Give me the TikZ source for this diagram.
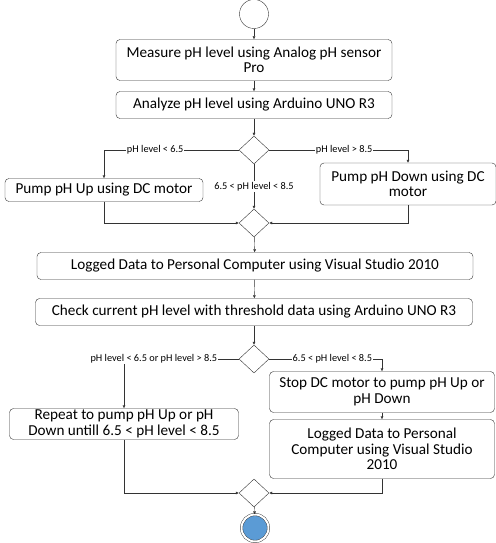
\documentclass[tikz,border=0pt]{standalone}
\usepackage{fontspec}
\setmainfont{Carlito}
\usetikzlibrary{arrows.meta, shapes.geometric}
\definecolor{endblue}{HTML}{5B9BD5}

\begin{document}
\begin{tikzpicture}[x=1pt,y=-1pt,
  box/.style={draw=black!80,rounded corners=4pt,align=center,inner sep=1pt,
    font=\fontsize{15.2}{15.5}\selectfont},
  dec/.style={draw=black!80,diamond,minimum width=30pt,minimum height=28pt,inner sep=0pt},
  arj/.style={draw=black!80,-{Latex[length=3pt,width=3pt]}},
  lbl/.style={fill=white,inner sep=1pt,font=\fontsize{10.3}{11}\selectfont}]
  \useasboundingbox (0,0) rectangle (495,543);
  % first analysis
  \node (start)[draw=black!80,circle,minimum size=29pt,inner sep=0pt] at (254,14) {};
  \node (measure)[box,minimum width=276pt,minimum height=41pt] at (254,60)
    {Measure pH level using Analog pH sensor\\Pro};
  \node (analyze)[box,minimum width=276pt,minimum height=27pt] at (254,105)
    {Analyze pH level using Arduino UNO R3};
  \node (d1)[dec] at (254,150) {};
  \node (pumpup)[box,minimum width=198pt,minimum height=23pt] at (104,190)
    {Pump pH Up using DC motor};
  \node (pumpdown)[box,minimum width=176pt,minimum height=42pt] at (408,184)
    {Pump pH Down using DC\\motor};
  \node (d2)[dec] at (254,223) {};
  \draw[arj] (start) -- (measure);
  \draw[arj] (measure) -- (analyze);
  \draw[arj] (analyze) -- (d1);
  \draw[arj] (d1.west) -| node[lbl,pos=0.31]{pH level < 6.5} (pumpup.north);
  \draw[arj] (d1.east) -| node[lbl,pos=0.27]{pH level > 8.5} (pumpdown.north);
  \draw[arj] (d1) -- node[lbl]{6.5 < pH level < 8.5} (d2);
  \draw[arj] (pumpup.south) |- (d2.west);
  \draw[arj] (pumpdown.south) |- (d2.east);
  % logging and check
  \node (log1)[box,minimum width=436pt,minimum height=27pt] at (255,266)
    {Logged Data to Personal Computer using Visual Studio 2010};
  \node (check)[box,minimum width=437pt,minimum height=27pt] at (254,312)
    {Check current pH level with threshold data using Arduino UNO R3};
  \node (d3)[dec] at (254,359) {};
  \node (repeat)[box,minimum width=229pt,minimum height=31pt] at (124,424)
    {Repeat to pump pH Up or pH\\Down untill 6.5 < pH level < 8.5};
  \node (stop)[box,minimum width=225pt,minimum height=41pt] at (382,392)
    {Stop DC motor to pump pH Up or\\pH Down};
  \node (log2)[box,minimum width=225pt,minimum height=59pt] at (382,449)
    {Logged Data to Personal\\Computer using Visual Studio\\2010};
  \node (d4)[dec] at (254,493) {};
  \node (end)[circle,fill=endblue,draw=black!80,double=white,double distance=2pt,
    minimum size=27pt,inner sep=0pt] at (255,528) {};
  \draw[arj] (d2) -- (log1);
  \draw[arj] (log1) -- (check);
  \draw[arj] (check) -- (d3);
  \draw[arj] (d3.west) -| node[lbl,pos=0.37]{pH level < 6.5 or pH level > 8.5} (repeat.north);
  \draw[arj] (d3.east) -| node[lbl,pos=0.28]{6.5 < pH level < 8.5} (stop.north);
  \draw[arj] (stop) -- (log2);
  \draw[arj] (repeat.south) |- (d4.west);
  \draw[arj] (log2.south) |- (d4.east);
  \draw[arj] (d4) -- (end);
\end{tikzpicture}
\end{document}
